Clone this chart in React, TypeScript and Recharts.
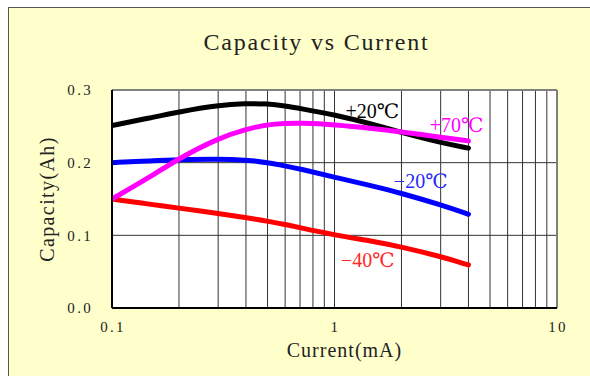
import React from 'react';
import {
  LineChart,
  Line,
  XAxis,
  YAxis,
  CartesianGrid,
  ReferenceLine,
  ReferenceDot,
} from 'recharts';

// Discharge current in mA (log axis)
const current = [0.1, 0.15, 0.2, 0.3, 0.4, 0.5, 0.6, 0.7, 1, 1.5, 2, 3, 4];

// Capacity in Ah at each temperature
const plus20 = [0.251, 0.262, 0.27, 0.279, 0.2815, 0.281, 0.278, 0.2745, 0.266, 0.2525, 0.2415, 0.2275, 0.22];
const plus70 = [0.15, 0.181, 0.206, 0.2335, 0.246, 0.2525, 0.254, 0.2545, 0.2525, 0.247, 0.2425, 0.235, 0.23];
const minus20 = [0.2, 0.2025, 0.204, 0.205, 0.2035, 0.2, 0.1955, 0.1915, 0.18, 0.1675, 0.158, 0.142, 0.129];
const minus40 = [0.15, 0.1425, 0.1375, 0.13, 0.1245, 0.1195, 0.115, 0.1105, 0.1005, 0.0915, 0.084, 0.071, 0.0592];

// Log grid: every integer step inside each decade
const xTicks = [
  0.1, 0.2, 0.3, 0.4, 0.5, 0.6, 0.7, 0.8, 0.9,
  1, 2, 3, 4, 5, 6, 7, 8, 9, 10,
];
const xTickLabels: Record<string, string> = { '0.1': '0.1', '1': '1', '10': '10' };
const yTicks = [0, 0.1, 0.2, 0.3];

// Curve names, placed beside their curves (data coordinates)
const curveLabels = [
  { text: '+20℃', current: 1.48, capacity: 0.2718, color: '#000000' },
  { text: '+70℃', current: 3.54, capacity: 0.2522, color: '#ff00ff' },
  { text: '−20℃', current: 2.44, capacity: 0.1755, color: '#2828ff' },
  { text: '−40℃', current: 1.41, capacity: 0.0665, color: '#ff2828' },
];

const rows = current.map((c, i) => ({
  current: c,
  plus20: plus20[i],
  plus70: plus70[i],
  minus20: minus20[i],
  minus40: minus40[i],
}));

const SERIF = '"Liberation Serif", "DejaVu Serif", serif';
const TEXT = '#222';

function YTick(props: any) {
  const { x, y, payload } = props;
  return (
    <text
      x={x}
      y={y}
      textAnchor="end"
      dy="0.35em"
      fontFamily={SERIF}
      fontSize={15}
      fill={TEXT}
      style={{ letterSpacing: '2.3px' }}
    >
      {Number(payload.value).toFixed(1)}
    </text>
  );
}

function XTick(props: any) {
  const { x, y, payload } = props;
  const label = xTickLabels[String(payload.value)];
  if (!label) return null;
  return (
    <text
      x={x + 1}
      y={y}
      textAnchor="middle"
      dy="0.71em"
      fontFamily={SERIF}
      fontSize={15}
      fill={TEXT}
      style={{ letterSpacing: '2.3px' }}
    >
      {label}
    </text>
  );
}

export default function App() {
  return (
    <div
      style={{
        position: 'fixed',
        left: 8,
        top: 7,
        width: 582,
        height: 369,
        boxSizing: 'border-box',
        background: '#ffffcc',
        borderLeft: '1px solid #555',
        borderTop: '1px solid #555',
        overflow: 'hidden',
      }}
    >
      <div
        style={{
          position: 'absolute',
          left: 0,
          top: 21,
          width: 615,
          textAlign: 'center',
          fontFamily: SERIF,
          fontSize: 24,
          lineHeight: '26px',
          letterSpacing: '1.8px',
          color: TEXT,
        }}
      >
        Capacity vs Current
      </div>
      <div style={{ position: 'absolute', left: 0, top: 0 }}>
        <LineChart
          width={581}
          height={367}
          data={rows}
          margin={{ top: 82, right: 33, bottom: 17, left: 0 }}
        >
          <CartesianGrid fill="#ffffff" stroke="#333" strokeWidth={1} />
          <XAxis
            dataKey="current"
            type="number"
            scale="log"
            domain={[0.1, 10]}
            allowDataOverflow
            ticks={xTicks}
            interval={0}
            tickLine={false}
            tickSize={0}
            tickMargin={13}
            height={50}
            axisLine={{ stroke: '#000', strokeWidth: 2 }}
            tick={<XTick />}
            label={{
              value: 'Current(mA)',
              position: 'insideBottom',
              offset: 1,
              dx: 10,
              fontFamily: SERIF,
              fontSize: 20,
              fill: TEXT,
              style: { letterSpacing: '1px' },
            }}
          />
          <YAxis
            type="number"
            domain={[0, 0.3]}
            ticks={yTicks}
            tickLine={false}
            tickSize={0}
            tickMargin={19}
            width={103}
            axisLine={{ stroke: '#000', strokeWidth: 2 }}
            tick={<YTick />}
            label={{
              value: 'Capacity(Ah)',
              angle: -90,
              position: 'insideLeft',
              offset: 38,
              fontFamily: SERIF,
              fontSize: 20,
              fill: TEXT,
              style: { textAnchor: 'middle', letterSpacing: '1.4px' },
            }}
          />
          <ReferenceLine y={0.3} stroke="#808080" strokeWidth={2} />
          <ReferenceLine x={10} stroke="#808080" strokeWidth={2} />
          <Line type="basis" dataKey="minus40" stroke="#ff0000" strokeWidth={5} strokeLinecap="round" dot={false} isAnimationActive={false} />
          <Line type="basis" dataKey="minus20" stroke="#0000ff" strokeWidth={5} strokeLinecap="round" dot={false} isAnimationActive={false} />
          <Line type="basis" dataKey="plus20" stroke="#000000" strokeWidth={5} strokeLinecap="round" dot={false} isAnimationActive={false} />
          <Line type="basis" dataKey="plus70" stroke="#ff00ff" strokeWidth={5} strokeLinecap="round" dot={false} isAnimationActive={false} />
          {curveLabels.map((l) => (
            <ReferenceDot
              key={l.text}
              x={l.current}
              y={l.capacity}
              r={0}
              fill="none"
              stroke="none"
              label={{
                value: l.text,
                position: 'center',
                fill: l.color,
                fontFamily: SERIF,
                fontSize: 20,
              }}
            />
          ))}
        </LineChart>
      </div>
    </div>
  );
}
